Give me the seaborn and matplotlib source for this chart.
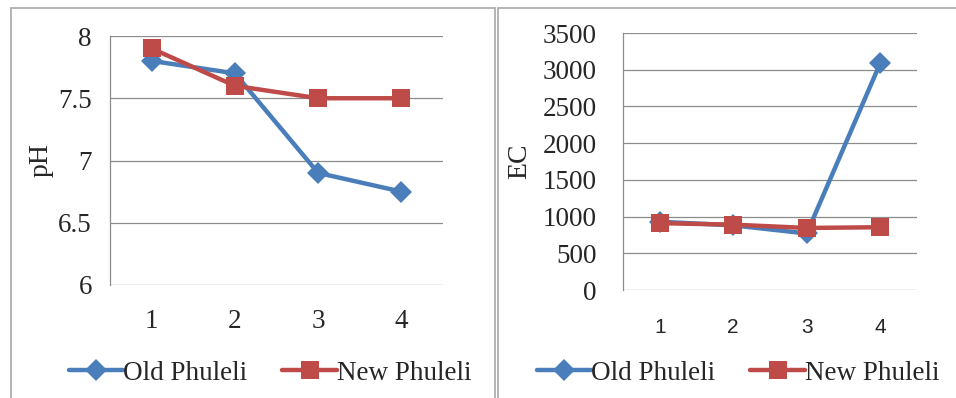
"""pH y EC en Old Phuleli vs. New Phuleli (cuatro puntos de muestreo)."""
import matplotlib
matplotlib.use("Agg")
import matplotlib.pyplot as plt
from matplotlib.patches import Rectangle
import pandas as pd
import seaborn as sns

PUNTOS = [1, 2, 3, 4]
SERIES = ["Old Phuleli", "New Phuleli"]
PH_OLD = [7.8, 7.7, 6.9, 6.75]
PH_NEW = [7.9, 7.6, 7.5, 7.5]
EC_OLD = [930, 880, 770, 3090]
EC_NEW = [910, 890, 845, 855]
PH_TICKS = [6, 6.5, 7, 7.5, 8]
PH_TICK_LABELS = ["6", "6.5", "7", "7.5", "8"]
EC_TICKS = [0, 500, 1000, 1500, 2000, 2500, 3000, 3500]

COLORES = {"Old Phuleli": "#4A7EBB", "New Phuleli": "#BE4B48"}
MARCADORES = {"Old Phuleli": "D", "New Phuleli": "s"}
SERIF = "Liberation Serif"
SANS = "Liberation Sans"
GRIS = "#8C8C8C"


def tabla(valores_old, valores_new, nombre):
    filas = []
    for serie, valores in zip(SERIES, [valores_old, valores_new]):
        for punto, v in zip(PUNTOS, valores):
            filas.append({"punto": punto, "serie": serie, nombre: v})
    return pd.DataFrame(filas)


def dibujar(ax, datos, columna):
    sns.lineplot(
        data=datos, x="punto", y=columna, hue="serie", style="serie",
        hue_order=SERIES, style_order=SERIES, palette=COLORES,
        markers=MARCADORES, dashes=False, linewidth=3.2,
        markeredgewidth=0, legend=False, ax=ax, zorder=3,
    )
    for linea, serie in zip(ax.get_lines(), SERIES):
        linea.set_markersize(13 if serie == "New Phuleli" else 11.5)
    ax.set_xlim(0.5, 4.5)
    ax.set_xticks(PUNTOS)
    ax.set_xlabel("")
    ax.grid(axis="y", color=GRIS, linewidth=0.9)
    ax.grid(axis="x", visible=False)
    ax.set_axisbelow(True)
    for lado in ["top", "right", "bottom"]:
        ax.spines[lado].set_visible(False)
    ax.spines["left"].set_color(GRIS)
    ax.spines["left"].set_linewidth(0.9)
    ax.tick_params(length=0)


def leyenda(fig, ax, x, y):
    handles = ax.get_lines()[:2]
    fig.legend(
        handles, SERIES, loc="center", bbox_to_anchor=(x, y),
        ncol=2, frameon=False, handlelength=2.0, handletextpad=0.0,
        columnspacing=1.3, prop={"family": SERIF, "size": 19.5},
    )


def main():
    sns.set_theme(style="white")
    plt.rcParams["font.family"] = [SERIF, "DejaVu Serif"]

    fig = plt.figure(figsize=(9.56, 3.98), dpi=100)

    # marcos de cada panel
    fig.patches.append(Rectangle(
        (10.5 / 956, -0.05), (495 - 10.5) / 956, 1.05 - 8 / 398,
        transform=fig.transFigure, fill=False, edgecolor="#A8A8A8",
        linewidth=1.2))
    fig.patches.append(Rectangle(
        (498 / 956, -0.05), 0.6, 1.05 - 8 / 398,
        transform=fig.transFigure, fill=False, edgecolor="#A8A8A8",
        linewidth=1.2))

    ax_ph = fig.add_axes([110 / 956, 1 - 285 / 398, 333 / 956, 249 / 398])
    ax_ph.patch.set_alpha(0)
    dibujar(ax_ph, tabla(PH_OLD, PH_NEW, "ph"), "ph")
    ax_ph.set_ylim(6, 8)
    ax_ph.set_yticks(PH_TICKS)
    ax_ph.set_yticklabels(PH_TICK_LABELS)
    ax_ph.tick_params(axis="y", labelsize=19.5, pad=13)
    ax_ph.tick_params(axis="x", labelsize=19.5, pad=17)
    ax_ph.set_ylabel("pH", fontsize=20)
    ax_ph.yaxis.set_label_coords(-0.17, 0.5)
    leyenda(fig, ax_ph, 270 / 956, 1 - 373 / 398)

    ax_ec = fig.add_axes([623 / 956, 1 - 290 / 398, 294 / 956, 257 / 398])
    ax_ec.patch.set_alpha(0)
    dibujar(ax_ec, tabla(EC_OLD, EC_NEW, "ec"), "ec")
    ax_ec.set_ylim(0, 3500)
    ax_ec.set_yticks(EC_TICKS)
    ax_ec.tick_params(axis="y", labelsize=19.5, pad=19)
    ax_ec.tick_params(axis="x", labelsize=15, pad=20)
    for t in ax_ec.get_xticklabels():
        t.set_family(SANS)
    ax_ec.set_ylabel("EC", fontsize=20)
    ax_ec.yaxis.set_label_coords(-0.31, 0.5)
    leyenda(fig, ax_ec, 738 / 956, 1 - 373 / 398)

    fig.savefig("out.png", dpi=100, facecolor="white")
    plt.close(fig)


if __name__ == "__main__":
    main()
